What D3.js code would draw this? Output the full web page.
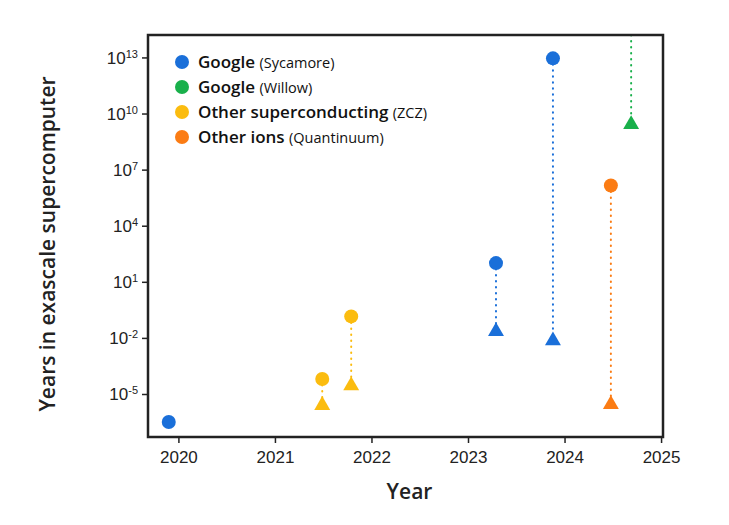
<!DOCTYPE html>
<html><head><meta charset="utf-8">
<script src="https://cdn.jsdelivr.net/npm/d3@7"></script>
<style>body{margin:0;background:#fff;font-family:"Open Sans",Roboto,sans-serif;}</style>
</head><body><div id="chart"></div>
<script>
// series: [year, log10 years] for circles (classical estimate) and triangles
const seriesNames = ["Google", "Google", "Other superconducting", "Other ions"];
const seriesSub = ["(Sycamore)", "(Willow)", "(ZCZ)", "(Quantinuum)"];
const seriesColors = ["#1a6fd9", "#19b04b", "#fbbc0f", "#fb7c14"];
const circleYear = [2019.9, 2021.49, 2021.79, 2023.29, 2023.88, 2024.48];
const circleLog = [-6.5, -4.2, -0.85, 2.0, 12.95, 6.15];
const circleSeries = [0, 2, 2, 0, 0, 3];
const triYear = [2021.49, 2021.79, 2023.29, 2023.88, 2024.48, 2024.69];
const triLog = [-5.55, -4.5, -1.6, -2.1, -5.5, 9.47];
const triSeries = [2, 2, 0, 0, 3, 1];
const yTicks = [-5, -2, 1, 4, 7, 10, 13];
const xTicks = [2020, 2021, 2022, 2023, 2024, 2025];

const W = 729, H = 525;
const margin = { top: 35, right: 66, bottom: 88, left: 148 };
const width = W - margin.left - margin.right, height = H - margin.top - margin.bottom;

const svg = d3.select("#chart").append("svg").attr("width", W).attr("height", H);
const g = svg.append("g").attr("transform", "translate(" + margin.left + "," + margin.top + ")");

const x = d3.scaleLinear().domain([2019.685, 2025.02]).range([0, width]);
const y = d3.scaleLinear().domain([-7.3, 14.2]).range([height, 0]);

// dotted connectors
const links = [[2021.49, -4.2, -5.55, 2], [2021.79, -0.85, -4.5, 2], [2023.29, 2.0, -1.6, 0],
               [2023.88, 12.95, -2.1, 0], [2024.48, 6.15, -5.5, 3], [2024.69, 14.2, 9.47, 1]];
g.selectAll(".link").data(links).enter().append("line")
  .attr("x1", d => x(d[0])).attr("x2", d => x(d[0]))
  .attr("y1", d => y(d[1])).attr("y2", d => y(d[2]))
  .attr("stroke", d => seriesColors[d[3]]).attr("stroke-width", 2)
  .attr("stroke-dasharray", "0.5,5.5").attr("stroke-linecap", "round");

g.selectAll(".tri").data(triYear).enter().append("path")
  .attr("d", d3.symbol(d3.symbolTriangle, 110)())
  .attr("transform", (d, i) => "translate(" + x(d) + "," + (y(triLog[i]) + 1) + ")")
  .attr("fill", (d, i) => seriesColors[triSeries[i]]);

g.selectAll(".dot").data(circleYear).enter().append("circle")
  .attr("cx", d => x(d)).attr("cy", (d, i) => y(circleLog[i])).attr("r", 7)
  .attr("fill", (d, i) => seriesColors[circleSeries[i]]);

// axes
const xa = g.append("g").attr("transform", "translate(0," + height + ")")
  .call(d3.axisBottom(x).tickValues(xTicks).tickFormat(d3.format("d")).tickSize(6).tickPadding(8));
const ya = g.append("g")
  .call(d3.axisLeft(y).tickValues(yTicks).tickSize(6).tickPadding(6).tickFormat(() => ""));
[xa, ya].forEach(a => { a.select(".domain").remove(); a.selectAll("line").attr("stroke", "#222").attr("stroke-width", 1.5); });
xa.selectAll("text").style("font-size", "17px").attr("fill", "#222");
ya.selectAll(".tick").append("text").attr("x", -10).attr("dy", "0.35em")
  .attr("text-anchor", "end").attr("fill", "#222").style("font-size", "17px")
  .each(function(d) {
    const t = d3.select(this);
    t.append("tspan").text("10");
    t.append("tspan").attr("dy", "-0.55em").style("font-size", "11px").text(d);
  });

g.append("rect").attr("width", width).attr("height", height)
  .attr("fill", "none").attr("stroke", "#222").attr("stroke-width", 2.5);

// legend
const lg = g.append("g").attr("transform", "translate(34,27)");
seriesNames.forEach((n, i) => {
  const row = lg.append("g").attr("transform", "translate(0," + i * 25 + ")");
  row.append("circle").attr("r", 7).attr("fill", seriesColors[i]);
  const t = row.append("text").attr("x", 16).attr("dy", "0.35em").attr("fill", "#111");
  t.append("tspan").style("font-size", "17px").style("font-weight", 600).text(n + " ");
  t.append("tspan").style("font-size", "14.5px").text(seriesSub[i]);
});

svg.append("text").attr("x", margin.left + width / 2 + 4).attr("y", 499)
  .attr("text-anchor", "middle").style("font-size", "21px").style("font-weight", 600)
  .attr("fill", "#222").text("Year");
svg.append("text").attr("transform", "translate(55," + (margin.top + height / 2 + 8) + ") rotate(-90)")
  .attr("text-anchor", "middle").style("font-size", "21px").style("font-weight", 600).attr("fill", "#222")
  .text("Years in exascale supercomputer");
</script></body></html>
